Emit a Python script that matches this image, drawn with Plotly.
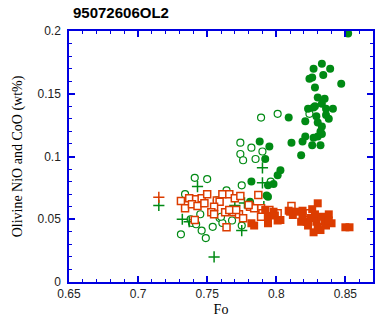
import plotly.graph_objects as go

# ---- data (Fo, oxide wt%) ----
g_fill_x = [0.852,0.833,0.827,0.839,0.834,0.824,0.826,0.847,0.828,0.830,0.835,0.833,0.823,0.827,0.836,0.841,
            0.821,0.829,0.836,0.838,0.830,0.833,0.832,0.833,0.830,0.827,0.821,0.819,0.826,0.832,0.809,0.811,
            0.795,0.818,0.788,0.792,0.803,0.801,0.782,0.798,0.794,0.793,0.794,0.781,0.828]
g_fill_y = [0.198,0.174,0.170,0.170,0.165,0.162,0.163,0.158,0.155,0.147,0.146,0.142,0.138,0.139,0.138,0.138,
            0.128,0.132,0.133,0.130,0.127,0.124,0.120,0.118,0.116,0.115,0.116,0.112,0.109,0.109,0.131,0.111,
            0.108,0.101,0.112,0.098,0.089,0.085,0.080,0.078,0.077,0.069,0.068,0.064,0.140]

g_open_x = [0.774,0.774,0.776,0.741,0.750,0.775,0.764,0.734,0.789,0.801,0.782,0.790,0.785,0.796,0.824,
            0.757,0.745,0.738,0.739,0.746,0.731,0.749,0.759,0.754,0.761,0.768,0.775,0.760,0.742]
g_open_y = [0.111,0.102,0.097,0.083,0.082,0.077,0.073,0.070,0.131,0.134,0.107,0.104,0.098,0.080,0.134,
            0.065,0.054,0.050,0.047,0.041,0.038,0.035,0.051,0.044,0.047,0.049,0.045,0.052,0.046]

g_cross_x = [0.743,0.715,0.732,0.737,0.755,0.777,0.775,0.790,0.791,0.790,0.770]
g_cross_y = [0.076,0.061,0.050,0.048,0.020,0.063,0.041,0.091,0.060,0.079,0.061]

r_open_x = [0.731,0.737,0.742,0.746,0.750,0.734,0.739,0.743,0.748,0.757,0.761,0.766,0.770,0.774,0.759,
            0.755,0.753,0.755,0.766,0.769,0.773,0.741,0.764,0.763,0.776,0.787,0.781,0.789,0.790,0.811,
            0.824,0.800,0.795,0.784,0.780,0.789,0.801,0.766,0.771]
r_open_y = [0.0645,0.0667,0.066,0.0667,0.070,0.0587,0.062,0.0606,0.0627,0.065,0.070,0.070,0.0667,0.0685,0.064,
            0.060,0.0555,0.054,0.0566,0.0555,0.054,0.0494,0.0436,0.0555,0.0508,0.0693,0.060,0.0587,0.0547,0.0606,
            0.0547,0.0547,0.0574,0.0587,0.0614,0.052,0.0547,0.0574,0.0574]

r_fill_x = [0.830,0.810,0.819,0.828,0.838,0.822,0.829,0.835,0.840,0.850,0.853,0.827,0.832,0.818,0.812,
            0.803,0.794,0.782,0.798,0.792,0.794,0.809,0.825,0.833,0.836,0.823,0.830,0.838,0.819,0.826,
            0.815,0.799,0.801,0.784]
r_fill_y = [0.0627,0.056,0.0568,0.0539,0.0539,0.048,0.048,0.048,0.0468,0.0436,0.0436,0.0396,0.0414,0.048,0.0534,
            0.0494,0.0468,0.0468,0.056,0.0574,0.0526,0.0568,0.051,0.052,0.045,0.045,0.044,0.049,0.052,0.058,
            0.056,0.053,0.049,0.045]

r_cross_x = [0.715]
r_cross_y = [0.0675]

GREEN = "#008a14"
RED = "#dc3c00"
BLUE = "#0000e0"

fig = go.Figure()
fig.add_trace(go.Scatter(x=g_open_x, y=g_open_y, mode="markers",
                         marker=dict(symbol="circle", size=7, color="white", line=dict(color=GREEN, width=1.2))))
fig.add_trace(go.Scatter(x=g_fill_x, y=g_fill_y, mode="markers",
                         marker=dict(symbol="circle", size=8, color=GREEN, line=dict(width=0))))
fig.add_trace(go.Scatter(x=g_cross_x, y=g_cross_y, mode="markers",
                         marker=dict(symbol="cross-thin", size=8, line=dict(color=GREEN, width=1.5))))
fig.add_trace(go.Scatter(x=r_open_x, y=r_open_y, mode="markers",
                         marker=dict(symbol="square", size=7, color="white", line=dict(color=RED, width=1.5))))
fig.add_trace(go.Scatter(x=r_fill_x, y=r_fill_y, mode="markers",
                         marker=dict(symbol="square", size=8, color=RED, line=dict(width=0))))
fig.add_trace(go.Scatter(x=r_cross_x, y=r_cross_y, mode="markers",
                         marker=dict(symbol="cross-thin", size=8, line=dict(color=RED, width=1.5))))

axis_common = dict(showline=True, linecolor=BLUE, linewidth=1.5, mirror="ticks",
                   ticks="inside", ticklen=6, tickcolor=BLUE, tickwidth=1.5,
                   showgrid=False, zeroline=False,
                   tickfont=dict(family="Arial, Liberation Sans", size=12, color="#222"),
                   title_font=dict(family="Times New Roman, Liberation Serif", size=14, color="#000"))

fig.update_xaxes(range=[0.65, 0.87], dtick=0.05, tick0=0.65,
                 minor=dict(dtick=0.01, ticks="inside", ticklen=3, tickcolor=BLUE, tickwidth=1.2),
                 title_text="Fo", title_standoff=4, **axis_common)
fig.update_yaxes(range=[0, 0.2], dtick=0.05, tick0=0, ticklabelstandoff=4,
                 minor=dict(dtick=0.01, ticks="inside", ticklen=3, tickcolor=BLUE, tickwidth=1.2),
                 title_text="Olivine NiO and CoO (wt%)", title_standoff=12, **axis_common)

fig.update_layout(width=392, height=326, showlegend=False,
                  margin=dict(l=69, r=19, t=31, b=44),
                  plot_bgcolor="white", paper_bgcolor="white",
                  title=dict(text="<b>95072606OL2</b>", x=73/392, xanchor="left", y=1-13/326, yanchor="middle",
                             font=dict(family="Arial, Liberation Sans", size=15, color="#000")))

fig.write_html("out.html")
